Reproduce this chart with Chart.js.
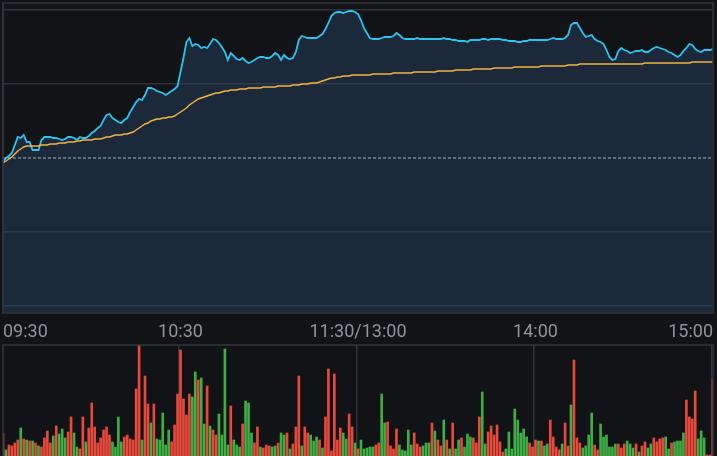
<!DOCTYPE html>
<html>
<head>
<meta charset="utf-8">
<script src="https://cdn.jsdelivr.net/npm/chart.js@4.4.1/dist/chart.umd.min.js"></script>
<style>
html, body { margin: 0; padding: 0; background: #111317; overflow: hidden; }
#wrap { position: relative; width: 717px; height: 456px; }
#priceBox { position: absolute; left: 0; top: 0; }
#volBox { position: absolute; left: 0; top: 340px; }
</style>
</head>
<body>
<div id="wrap">
  <canvas id="priceBox" width="717" height="345"></canvas>
  <canvas id="volBox" width="717" height="120"></canvas>
</div>
<script>
// time axis labels shown under the price panel
const tickLabels = ['09:30', '10:30', '11:30/13:00', '14:00', '15:00'];
const tickIdx = [0, 60, 120, 180, 240];
// horizontal grid values (% change vs previous close)
const yTicks = [-1.48, -0.74, 0, 0.74, 1.48];
const prevClose = 0;

// price, % change per minute
const price = [
  -0.04, 0.00, 0.02, 0.05, 0.13, 0.21, 0.20, 0.23, 0.16, 0.16,
  0.08, 0.08, 0.08, 0.18, 0.21, 0.21, 0.21, 0.20, 0.20, 0.19,
  0.18, 0.19, 0.21, 0.21, 0.20, 0.18, 0.21, 0.20, 0.20, 0.22,
  0.25, 0.27, 0.30, 0.32, 0.38, 0.43, 0.44, 0.40, 0.38, 0.36,
  0.35, 0.38, 0.40, 0.46, 0.51, 0.56, 0.59, 0.58, 0.63, 0.70,
  0.70, 0.69, 0.67, 0.66, 0.65, 0.63, 0.65, 0.67, 0.69, 0.72,
  0.86, 1.00, 1.16, 1.20, 1.12, 1.14, 1.13, 1.10, 1.11, 1.10,
  1.14, 1.19, 1.18, 1.15, 1.11, 1.06, 0.98, 1.05, 1.02, 0.99,
  0.98, 1.00, 0.97, 0.95, 0.96, 0.98, 1.00, 1.01, 1.01, 1.00,
  1.00, 1.02, 1.05, 1.03, 0.98, 1.03, 1.00, 0.99, 1.00, 1.06,
  1.18, 1.22, 1.21, 1.20, 1.20, 1.20, 1.20, 1.22, 1.24, 1.29,
  1.35, 1.42, 1.45, 1.46, 1.46, 1.45, 1.46, 1.47, 1.47, 1.46,
  1.44, 1.38, 1.30, 1.25, 1.20, 1.19, 1.19, 1.19, 1.20, 1.21,
  1.21, 1.21, 1.22, 1.25, 1.23, 1.20, 1.19, 1.19, 1.19, 1.19,
  1.20, 1.19, 1.19, 1.19, 1.19, 1.19, 1.19, 1.19, 1.19, 1.20,
  1.19, 1.19, 1.18, 1.18, 1.17, 1.17, 1.17, 1.16, 1.18, 1.18,
  1.18, 1.18, 1.19, 1.19, 1.18, 1.19, 1.19, 1.19, 1.19, 1.18,
  1.18, 1.17, 1.17, 1.17, 1.16, 1.16, 1.17, 1.17, 1.18, 1.18,
  1.18, 1.18, 1.18, 1.18, 1.18, 1.19, 1.20, 1.19, 1.19, 1.19,
  1.20, 1.23, 1.33, 1.35, 1.35, 1.30, 1.25, 1.21, 1.22, 1.23,
  1.19, 1.17, 1.16, 1.14, 1.08, 1.01, 0.98, 0.99, 1.07, 1.10,
  1.08, 1.07, 1.05, 1.06, 1.07, 1.07, 1.08, 1.06, 1.06, 1.08,
  1.10, 1.11, 1.10, 1.09, 1.08, 1.06, 1.05, 1.03, 1.01, 1.03,
  1.07, 1.10, 1.14, 1.13, 1.09, 1.07, 1.06, 1.08, 1.08, 1.08,
  1.09
];

// average price line, % change
const avgPrice = [
  -0.05, -0.03, -0.01, 0.01, 0.04, 0.07, 0.09, 0.11, 0.12, 0.12,
  0.12, 0.12, 0.12, 0.13, 0.13, 0.13, 0.14, 0.14, 0.14, 0.15,
  0.15, 0.15, 0.16, 0.16, 0.16, 0.17, 0.17, 0.18, 0.18, 0.18,
  0.18, 0.19, 0.19, 0.19, 0.20, 0.21, 0.21, 0.22, 0.23, 0.23,
  0.23, 0.24, 0.24, 0.25, 0.26, 0.28, 0.30, 0.32, 0.34, 0.35,
  0.37, 0.38, 0.39, 0.39, 0.40, 0.40, 0.41, 0.41, 0.42, 0.44,
  0.46, 0.48, 0.50, 0.53, 0.55, 0.57, 0.59, 0.60, 0.61, 0.62,
  0.63, 0.64, 0.65, 0.65, 0.66, 0.67, 0.67, 0.68, 0.68, 0.68,
  0.69, 0.69, 0.69, 0.70, 0.70, 0.70, 0.70, 0.70, 0.71, 0.71,
  0.71, 0.71, 0.71, 0.72, 0.72, 0.72, 0.72, 0.72, 0.73, 0.73,
  0.73, 0.74, 0.74, 0.74, 0.75, 0.75, 0.75, 0.76, 0.77, 0.78,
  0.79, 0.80, 0.80, 0.81, 0.81, 0.82, 0.82, 0.82, 0.83, 0.83,
  0.83, 0.83, 0.83, 0.83, 0.83, 0.84, 0.84, 0.84, 0.84, 0.84,
  0.84, 0.84, 0.85, 0.85, 0.85, 0.85, 0.85, 0.85, 0.85, 0.86,
  0.86, 0.86, 0.86, 0.86, 0.86, 0.86, 0.86, 0.87, 0.87, 0.87,
  0.87, 0.87, 0.87, 0.88, 0.88, 0.88, 0.88, 0.88, 0.88, 0.89,
  0.89, 0.89, 0.89, 0.89, 0.89, 0.89, 0.90, 0.90, 0.90, 0.90,
  0.90, 0.90, 0.90, 0.91, 0.91, 0.91, 0.91, 0.91, 0.91, 0.91,
  0.91, 0.91, 0.92, 0.92, 0.92, 0.92, 0.92, 0.92, 0.92, 0.92,
  0.92, 0.93, 0.93, 0.93, 0.93, 0.94, 0.94, 0.94, 0.94, 0.94,
  0.94, 0.94, 0.94, 0.94, 0.94, 0.94, 0.94, 0.94, 0.94, 0.94,
  0.94, 0.94, 0.94, 0.94, 0.94, 0.94, 0.94, 0.95, 0.95, 0.95,
  0.95, 0.95, 0.95, 0.95, 0.95, 0.95, 0.95, 0.95, 0.95, 0.95,
  0.95, 0.95, 0.95, 0.96, 0.96, 0.96, 0.96, 0.96, 0.96, 0.96,
  0.96
];

// volume per minute
const volume = [
  23, 6, 11, 10, 13, 16, 28, 17, 16, 15,
  15, 13, 10, 9, 18, 25, 13, 20, 30, 22,
  27, 18, 24, 39, 23, 9, 7, 39, 14, 28,
  53, 29, 13, 18, 26, 29, 21, 14, 9, 39,
  14, 19, 21, 17, 16, 67, 111, 16, 80, 52,
  33, 52, 17, 16, 43, 11, 26, 14, 31, 62,
  106, 57, 41, 62, 59, 84, 76, 78, 32, 70,
  30, 26, 21, 42, 21, 107, 11,
  50, 16, 11, 9, 32, 55, 53, 23, 13, 29,
  9, 8, 11, 10, 9, 10, 13, 23, 21, 23,
  7, 12, 29, 80, 10, 29, 23, 21, 15, 19,
  16, 8, 39, 87, 5, 82, 16, 28, 23, 17,
  42, 29, 13, 7, 16, 7, 8, 9, 9, 11,
  13, 62, 33, 34, 10, 7, 27, 11, 6, 5,
  26, 11, 23, 12, 9, 10, 13, 13, 33, 25,
  16, 10, 36, 16, 7, 33, 7, 16, 18, 9,
  22, 19,
  18, 13, 39, 64, 12, 24, 30, 21, 31, 14,
  4, 7, 24, 7, 47, 36, 23, 27, 19, 13,
  9, 16, 15, 15, 10, 12, 36, 19, 9, 6,
  12, 33, 10, 51, 96, 18, 13, 8, 10, 21,
  43, 11, 6, 32, 19, 21, 9, 9, 12, 12,
  8, 12, 15, 12, 8, 12, 4, 10, 14, 8,
  12, 18, 14, 17, 18, 19, 7, 13, 14, 15,
  15, 23, 56, 39, 37, 65, 17, 25, 18,
  1, 1, 77
];

// 1 = up minute (red), 0 = down minute (green)
const volUp = [
  1,0,1,1,1,1,0,1,0,1, 0,1,0,1,1,1,1,0,1,0,
  0,0,1,1,0,0,1,1,0,1, 1,1,1,1,1,1,1,0,0,0,
  0,1,1,1,1,1,1,0,1,1, 0,1,0,0,0,0,0,1,1,1,
  1,1,1,1,0,0,1,0,0,1, 0,1,1,0,0,0,0,
  1,0,0,0,1,0,0,0,1,1, 0,1,1,1,0,0,1,0,0,1,
  0,1,1,1,0,1,1,0,0,0, 1,0,1,1,1,1,1,1,0,0,
  1,1,0,1,0,0,0,0,0,1, 1,0,0,1,1,1,1,0,0,0,
  0,0,1,1,1,0,0,0,1,0, 1,1,0,1,0,1,0,0,1,0,
  0,0,
  1,1,1,0,0,1,1,1,1,1, 1,0,0,0,0,0,0,0,0,1,
  1,1,0,1,0,0,1,1,1,1, 0,1,1,0,1,1,1,0,0,0,
  0,1,1,0,0,0,0,0,0,1, 1,1,0,0,0,1,0,1,1,0,
  0,1,1,1,1,0,0,1,0,0, 0,0,1,1,1,1,0,0,0,
  1,1,1
];

// minute categories: 09:30-11:30 then 13:01-15:00
const minutes = [];
for (let m = 0; m <= 120; m++) {
  const t = 9 * 60 + 30 + m;
  minutes.push(String(Math.floor(t / 60)).padStart(2, '0') + ':' + String(t % 60).padStart(2, '0'));
}
for (let m = 1; m <= 120; m++) {
  const t = 13 * 60 + m;
  minutes.push(String(Math.floor(t / 60)).padStart(2, '0') + ':' + String(t % 60).padStart(2, '0'));
}

const frameColor = '#30353d';
const gridColor = '#30353d';

const framePlugin = {
  id: 'frame',
  afterDatasetsDraw(chart, args, opts) {
    const a = chart.chartArea;
    const c = chart.ctx;
    c.save();
    if (opts.dash) {
      const y = chart.scales.y.getPixelForValue(prevClose);
      c.strokeStyle = 'rgba(200,205,210,0.85)';
      c.lineWidth = 1.2;
      c.setLineDash([3, 2]);
      c.beginPath();
      c.moveTo(a.left, y);
      c.lineTo(a.right, y);
      c.stroke();
      c.setLineDash([]);
    }
    c.strokeStyle = frameColor;
    c.lineWidth = 1.5;
    c.strokeRect(a.left, a.top, a.right - a.left, (a.bottom - a.top) + (opts.openBottom ? 20 : 0));
    c.restore();
  }
};

function gridAtTicks(ctx) {
  return tickIdx.indexOf(ctx.index) >= 0 ? gridColor : 'rgba(0,0,0,0)';
}

new Chart(document.getElementById('priceBox'), {
  type: 'line',
  data: {
    labels: minutes,
    datasets: [{
      label: '价格',
      data: price,
      borderColor: '#2ac4ef',
      borderWidth: 1.8,
      pointRadius: 0,
      fill: 'start',
      backgroundColor: 'rgba(45,72,108,0.42)',
      tension: 0,
      order: 1
    }, {
      label: '均价',
      data: avgPrice,
      borderColor: '#f0b540',
      borderWidth: 1.5,
      pointRadius: 0,
      fill: false,
      tension: 0,
      order: 0
    }]
  },
  options: {
    responsive: false,
    animation: false,
    layout: { padding: { left: 3, right: 4, top: 3, bottom: 0 } },
    plugins: {
      legend: { display: false },
      tooltip: { enabled: false },
      frame: { dash: true, openBottom: false }
    },
    scales: {
      x: {
        type: 'category',
        offset: false,
        border: { display: false },
        grid: {
          color: gridAtTicks,
          lineWidth: 1.5,
          drawTicks: true,
          tickLength: 9,
          tickColor: 'rgba(0,0,0,0)'
        },
        ticks: {
          autoSkip: false,
          maxRotation: 0,
          minRotation: 0,
          align: 'inner',
          padding: 0,
          color: '#8f939a',
          font: { family: 'Roboto', size: 18 },
          callback: function (v, i) {
            const k = tickIdx.indexOf(i);
            return k >= 0 ? tickLabels[k] : null;
          }
        },
        afterFit: function (s) { s.height = 32; }
      },
      y: {
        min: -1.55,
        max: 1.55,
        border: { display: false },
        grid: {
          color: function (ctx) { return ctx.tick && ctx.tick.value === prevClose ? 'rgba(0,0,0,0)' : gridColor; },
          lineWidth: 1.5,
          drawTicks: false
        },
        ticks: { display: false, padding: 0 },
        afterBuildTicks: function (s) { s.ticks = yTicks.map(v => ({ value: v })); },
        afterFit: function (s) { s.width = 0; }
      }
    }
  },
  plugins: [framePlugin]
});

new Chart(document.getElementById('volBox'), {
  type: 'bar',
  data: {
    labels: minutes,
    datasets: [{
      label: '成交量',
      data: volume,
      backgroundColor: volUp.map(u => u ? '#e8493b' : '#3eae45'),
      barThickness: 2
    }]
  },
  options: {
    responsive: false,
    animation: false,
    layout: { padding: { left: 3, right: 4, top: 5, bottom: 4 } },
    plugins: {
      legend: { display: false },
      tooltip: { enabled: false },
      frame: { dash: false, openBottom: true }
    },
    scales: {
      x: {
        type: 'category',
        offset: false,
        border: { display: false },
        grid: { color: gridAtTicks, lineWidth: 1.5, drawTicks: false },
        ticks: { display: false, autoSkip: false },
        afterFit: function (s) { s.height = 0; }
      },
      y: {
        min: 0,
        max: 111,
        display: false
      }
    }
  },
  plugins: [framePlugin]
});
</script>
</body>
</html>
